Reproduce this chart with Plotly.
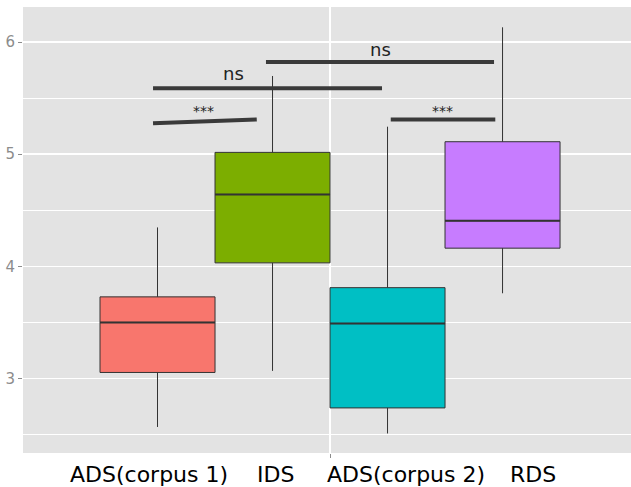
import plotly.graph_objects as go

# ---- data ----
groups = ["ADS(corpus 1)", "IDS", "ADS(corpus 2)", "RDS"]
positions = [1, 2, 3, 4]
colors = ["#F8766D", "#7CAE00", "#00BFC4", "#C77CFF"]
lower_whisker = [2.568, 3.068, 2.51, 3.76]
q1 = [3.054, 4.031, 2.738, 4.162]
median = [3.50, 4.641, 3.49, 4.406]
q3 = [3.728, 5.016, 3.81, 5.111]
upper_whisker = [4.347, 5.697, 5.245, 6.131]

# significance brackets
sig_x0 = [0.961, 0.961, 1.943, 3.028]
sig_x1 = [1.863, 2.952, 3.926, 3.937]
sig_y0 = [5.275, 5.587, 5.822, 5.310]
sig_y1 = [5.310, 5.587, 5.822, 5.310]
sig_labels = ["***", "ns", "ns", "***"]
sig_label_x = [1.396, 1.665, 2.935, 3.480]
sig_label_y = [5.385, 5.715, 5.930, 5.385]

# x labels (placed as text under the panel)
xlabel_text = ["ADS(corpus 1)", "IDS", "ADS(corpus 2)", "RDS"]
xlabel_pos = [0.926, 2.022, 3.161, 4.269]

y_ticks = [3, 4, 5, 6]
y_minor = [2.5, 3.5, 4.5, 5.5]

fig = go.Figure()

for i in range(len(groups)):
    fig.add_trace(go.Box(
        x=[positions[i]], q1=[q1[i]], median=[median[i]], q3=[q3[i]],
        lowerfence=[lower_whisker[i]], upperfence=[upper_whisker[i]],
        name=groups[i], fillcolor=colors[i],
        line=dict(color="#333333", width=1),
        whiskerwidth=0, width=1.0, boxpoints=False, showlegend=False,
        hoverinfo="skip"
    ))

shapes = []
for i in range(len(groups)):
    shapes.append(dict(type="line", xref="x", yref="y",
                       x0=positions[i] - 0.5, x1=positions[i] + 0.5,
                       y0=median[i], y1=median[i],
                       line=dict(color="#333333", width=2)))

for i in range(len(sig_labels)):
    fig.add_trace(go.Scatter(
        x=[sig_x0[i], sig_x1[i]], y=[sig_y0[i], sig_y1[i]],
        mode="lines", line=dict(color="#3a3a3a", width=4),
        showlegend=False, hoverinfo="skip"))

annotations = []
for i in range(len(sig_labels)):
    annotations.append(dict(
        x=sig_label_x[i], y=sig_label_y[i], xref="x", yref="y",
        text=sig_labels[i], showarrow=False,
        font=dict(family="DejaVu Sans", size=18 if sig_labels[i] == "ns" else 14,
                  color="#222222"),
        xanchor="center", yanchor="middle"))

for i in range(len(xlabel_text)):
    annotations.append(dict(
        x=xlabel_pos[i], y=0, xref="x", yref="paper",
        text=xlabel_text[i], showarrow=False,
        font=dict(family="DejaVu Sans", size=22, color="#000000"),
        xanchor="center", yanchor="middle", yshift=-21))

fig.update_layout(
    width=631, height=487,
    margin=dict(l=23, r=0, t=7, b=34, pad=0, autoexpand=False),
    paper_bgcolor="white", plot_bgcolor="#E3E3E3",
    boxmode="overlay",
    shapes=shapes, annotations=annotations,
    xaxis=dict(range=[-0.1696, 5.117], tickvals=[2.5], ticktext=[""],
               showgrid=True, gridcolor="white", gridwidth=1.6,
               zeroline=False, showline=False, automargin=False,
               ticks="outside", ticklen=4, tickcolor="#8c8c8c", tickwidth=1),
    yaxis=dict(range=[2.336, 6.312], tickvals=y_ticks,
               showgrid=True, gridcolor="white", gridwidth=1.6,
               zeroline=False, showline=False, automargin=False,
               ticks="outside", ticklen=4, tickcolor="#8c8c8c", tickwidth=1,
               tickfont=dict(family="DejaVu Sans", size=15, color="#8c8c8c"),
               minor=dict(tickvals=y_minor, showgrid=True,
                          gridcolor="white", gridwidth=1.0, ticks="")),
)

fig.write_html("out.html",
               config={"displayModeBar": False, "staticPlot": True},
               post_script="document.body.style.margin='0';document.body.style.padding='0';")
